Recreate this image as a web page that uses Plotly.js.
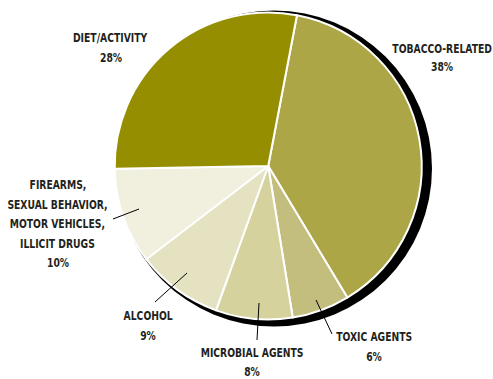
<!DOCTYPE html>
<html>
<head>
<meta charset="utf-8">
<script src="https://cdn.plot.ly/plotly-3.0.1.min.js"></script>
<style>
html,body{margin:0;padding:0;background:#fff;}
#chart{width:493px;height:379px;}
#chart .annotation-text-g text{transform-box:fill-box;transform-origin:center;transform:scaleX(0.79);}
</style>
</head>
<body>
<div id="chart"></div>
<script>
// Data
var categories = ["TOBACCO-RELATED", "TOXIC AGENTS", "MICROBIAL AGENTS", "ALCOHOL", "FIREARMS, SEXUAL BEHAVIOR, MOTOR VEHICLES, ILLICIT DRUGS", "DIET/ACTIVITY"];
var values = [38, 6, 8, 9, 10, 28];
var sliceColors = ["#ada647", "#c3be7d", "#d5d29e", "#e5e2c2", "#f1efdd", "#948e00"];
var labelLines = [
  ["TOBACCO-RELATED"],
  ["TOXIC AGENTS"],
  ["MICROBIAL AGENTS"],
  ["ALCOHOL"],
  ["FIREARMS,", "SEXUAL BEHAVIOR,", "MOTOR VEHICLES,", "ILLICIT DRUGS"],
  ["DIET/ACTIVITY"]
];

var W = 493, H = 379;
function px(x) { return x / W; }
function py(y) { return 1 - y / H; }

// label layout (pixel centers of first line), leader lines
var labelPos = [[442, 48], [374, 336.5], [252, 352.5], [148, 315], [57.5, 184.5], [110.5, 37]];
var lineGaps = [18.7, 20, 19.3, 20, 19.5, 20];
var leaders = [null, [332, 334, 316, 300], [257, 340, 259, 303], [155, 302, 187, 273], [113, 219, 139, 209], null];

var font = {family: "'DejaVu Sans Condensed', 'DejaVu Sans', sans-serif", size: 13, color: "#231f20", weight: 700};

var annotations = [];
for (var i = 0; i < categories.length; i++) {
  var lines = labelLines[i].concat([values[i] + "%"]);
  for (var j = 0; j < lines.length; j++) {
    annotations.push({
      xref: "paper", yref: "paper",
      x: px(labelPos[i][0]), y: py(labelPos[i][1] + j * lineGaps[i]),
      xanchor: "center", yanchor: "middle", borderpad: 0,
      text: "<b>" + lines[j] + "</b>", showarrow: false, font: font
    });
  }
}
var shapes = [];
leaders.forEach(function (l) {
  if (!l) return;
  shapes.push({type: "line", xref: "paper", yref: "paper",
    x0: px(l[0]), y0: py(l[1]), x1: px(l[2]), y1: py(l[3]),
    line: {color: "#000", width: 1}});
});

var shadow = {
  type: "pie", values: [1], labels: ["shadow"], sort: false,
  marker: {colors: ["#000000"], line: {width: 0}},
  textinfo: "none", hoverinfo: "skip",
  domain: {x: [px(274 - 158), px(274 + 158)], y: [py(168.5 + 158), py(168.5 - 158)]}
};
var pie = {
  type: "pie", values: values, labels: categories, sort: false,
  direction: "clockwise", rotation: 10.8,
  marker: {colors: sliceColors, line: {color: "#ffffff", width: 2}},
  textinfo: "none", hoverinfo: "label+percent",
  domain: {x: [px(268.2 - 153.5), px(268.2 + 153.5)], y: [py(166 + 153.5), py(166 - 153.5)]}
};

Plotly.newPlot("chart", [shadow, pie], {
  width: W, height: H, showlegend: false,
  margin: {l: 0, r: 0, t: 0, b: 0},
  paper_bgcolor: "#ffffff", plot_bgcolor: "#ffffff",
  annotations: annotations, shapes: shapes
}, {displayModeBar: false, staticPlot: true});
</script>
</body>
</html>
